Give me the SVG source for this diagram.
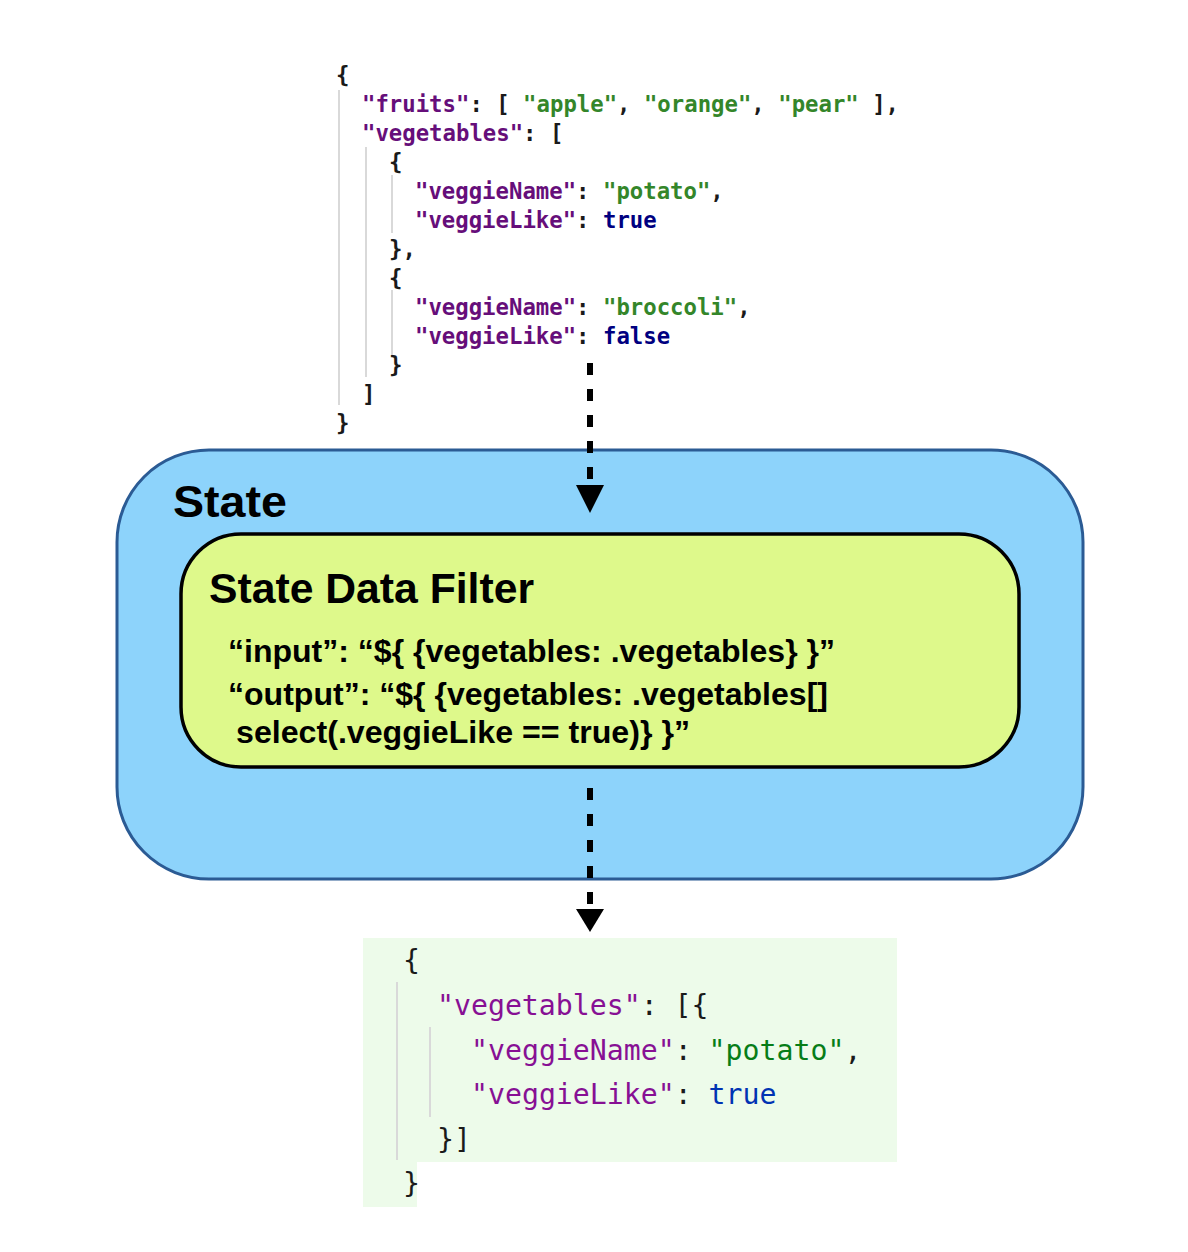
<svg xmlns="http://www.w3.org/2000/svg" width="1188" height="1252" viewBox="0 0 1188 1252">
<style>
.j1{font-family:"DejaVu Sans Mono","Liberation Mono",monospace;font-weight:bold;font-size:22.3px;fill:#1a1a1a;white-space:pre}
.j2{font-family:"DejaVu Sans Mono","Liberation Mono",monospace;font-size:28.2px;fill:#1a1a1a;white-space:pre}
.k1{fill:#660E7A}.s1{fill:#34862A}.b1{fill:#000080}
.k2{fill:#871094}.s2{fill:#067D17}.b2{fill:#0033B3}
.guide{stroke:#d9d9d9;stroke-width:2;fill:none}
.h{font-family:"Liberation Sans",Arial,Helvetica,sans-serif;font-weight:bold;fill:#000}
.dash{stroke:#000;stroke-width:6;stroke-dasharray:12 14;fill:none}
</style>
<rect width="1188" height="1252" fill="#fff"/>

<g id="input-json">
<line class="guide" x1="339" y1="90" x2="339" y2="405"/>
<line class="guide" x1="366" y1="147" x2="366" y2="377"/>
<line class="guide" x1="392" y1="175" x2="392" y2="233"/>
<line class="guide" x1="392" y1="290" x2="392" y2="357"/>
<text class="j1" x="336" y="83">{</text>
<text class="j1" x="362" y="112"><tspan class="k1">"fruits"</tspan>: [ <tspan class="s1">"apple"</tspan>, <tspan class="s1">"orange"</tspan>, <tspan class="s1">"pear"</tspan> ],</text>
<text class="j1" x="362" y="141"><tspan class="k1">"vegetables"</tspan>: [</text>
<text class="j1" x="389" y="170">{</text>
<text class="j1" x="415" y="199"><tspan class="k1">"veggieName"</tspan>: <tspan class="s1">"potato"</tspan>,</text>
<text class="j1" x="415" y="228"><tspan class="k1">"veggieLike"</tspan>: <tspan class="b1">true</tspan></text>
<text class="j1" x="389" y="257">},</text>
<text class="j1" x="389" y="286">{</text>
<text class="j1" x="415" y="315"><tspan class="k1">"veggieName"</tspan>: <tspan class="s1">"broccoli"</tspan>,</text>
<text class="j1" x="415" y="344"><tspan class="k1">"veggieLike"</tspan>: <tspan class="b1">false</tspan></text>
<text class="j1" x="389" y="373">}</text>
<text class="j1" x="362" y="402">]</text>
<text class="j1" x="336" y="431">}</text>
</g>

<g id="state">
<rect x="117" y="450" width="966" height="429" rx="92" ry="92" fill="#8DD3FB" stroke="#2B5B94" stroke-width="3"/>
<text class="h" x="173" y="517" font-size="44" textLength="114" lengthAdjust="spacingAndGlyphs">State</text>
</g>

<g id="state-data-filter">
<rect x="181" y="534" width="838" height="233" rx="60" ry="60" fill="#DEF98B" stroke="#000" stroke-width="3.5"/>
<text class="h" x="209" y="603" font-size="43" textLength="325" lengthAdjust="spacingAndGlyphs">State Data Filter</text>
<text class="h" x="228" y="662" font-size="31" textLength="607" lengthAdjust="spacingAndGlyphs">“input”: “${ {vegetables: .vegetables} }”</text>
<text class="h" x="228" y="705" font-size="31" textLength="600" lengthAdjust="spacingAndGlyphs">“output”: “${ {vegetables: .vegetables[]</text>
<text class="h" x="236" y="743" font-size="31" textLength="454" lengthAdjust="spacingAndGlyphs">select(.veggieLike == true)} }”</text>
</g>

<g id="output-json">
<path d="M363 938 H897 V1162 H417 V1207 H363 Z" fill="#EDFBEA"/>
<line class="guide" x1="397" y1="982" x2="397" y2="1160"/>
<line class="guide" x1="430" y1="1027" x2="430" y2="1117"/>
<text class="j2" x="403" y="970">{</text>
<text class="j2" x="437" y="1015"><tspan class="k2">"vegetables"</tspan>: [{</text>
<text class="j2" x="471" y="1060"><tspan class="k2">"veggieName"</tspan>: <tspan class="s2">"potato"</tspan>,</text>
<text class="j2" x="471" y="1104"><tspan class="k2">"veggieLike"</tspan>: <tspan class="b2">true</tspan></text>
<text class="j2" x="437" y="1149">}]</text>
<text class="j2" x="403" y="1193">}</text>
</g>

<g id="connectors">
<line class="dash" x1="590" y1="363" x2="590" y2="484"/>
<polygon points="576,485 604,485 590,513" fill="#000"/>
<line class="dash" x1="590" y1="788" x2="590" y2="906"/>
<polygon points="576,909 604,909 590,932" fill="#000"/>
</g>
</svg>
